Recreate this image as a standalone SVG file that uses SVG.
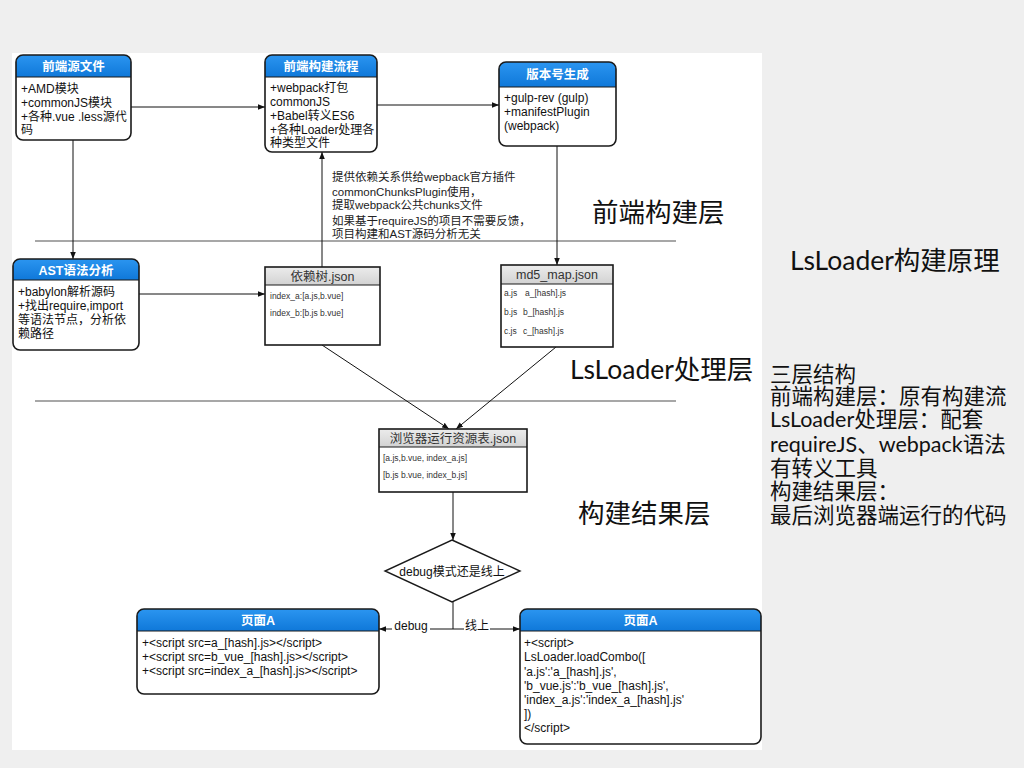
<svg xmlns="http://www.w3.org/2000/svg" width="1024" height="768" viewBox="0 0 1024 768">
<defs>
<linearGradient id="gb" x1="0" y1="0" x2="0" y2="1"><stop offset="0" stop-color="#2b95f0"/><stop offset="1" stop-color="#0f78d9"/></linearGradient>
<linearGradient id="gg" x1="0" y1="0" x2="0" y2="1"><stop offset="0" stop-color="#ececec"/><stop offset="1" stop-color="#d2d2d2"/></linearGradient>
<marker id="ar" viewBox="0 0 10 10" refX="10" refY="5" markerWidth="7" markerHeight="7" orient="auto" markerUnits="userSpaceOnUse"><path d="M0,1 L10,5 L0,9 Z" fill="#111"/></marker>
<style>
.bx{fill:none;stroke:#1a1a1a;stroke-width:1.6}
.bg{fill:#fff}
.hb{fill:url(#gb)}
.hg{fill:url(#gg)}
.hl{stroke:#1a1a1a;stroke-width:1.2}
.ht{font-family:"Liberation Sans","Noto Sans CJK SC",sans-serif;font-size:12.5px;font-weight:bold;fill:#fff;text-anchor:middle}
.gt{font-family:"Liberation Sans","Noto Sans CJK SC",sans-serif;font-size:12.5px;fill:#333;text-anchor:middle}
.t{font-family:"Liberation Sans","Noto Sans CJK SC",sans-serif;font-size:12px;fill:#111}
.s{font-family:"Liberation Sans","Noto Sans CJK SC",sans-serif;font-size:8.5px;fill:#333}
.c{font-family:"Liberation Sans","Noto Sans CJK SC",sans-serif;font-size:11.5px;fill:#222}
.ln{fill:none;stroke:#111;stroke-width:1}
.sep{stroke:#8a8a8a;stroke-width:1.5}
.big{font-family:"Lato","Noto Sans CJK SC",sans-serif;font-size:26.5px;fill:#111}
.r{font-family:"Lato","Noto Sans CJK SC",sans-serif;font-size:21.5px;fill:#111}
</style>
</defs>
<rect x="0" y="0" width="1024" height="768" fill="#efefef"/>
<rect x="12" y="53" width="750" height="697" fill="#fff"/>

<g id="sep">
<line class="sep" x1="35" y1="241" x2="676" y2="241"/>
<line class="sep" x1="35" y1="401" x2="676" y2="401"/>
</g>

<g id="connectors">
<line class="ln" x1="131" y1="107" x2="265" y2="107" marker-end="url(#ar)"/>
<line class="ln" x1="377" y1="105" x2="499" y2="105" marker-end="url(#ar)"/>
<line class="ln" x1="73" y1="140" x2="73" y2="259" marker-end="url(#ar)"/>
<line class="ln" x1="557" y1="146" x2="557" y2="265" marker-end="url(#ar)"/>
<line class="ln" x1="139" y1="294" x2="265" y2="294" marker-end="url(#ar)"/>
<line class="ln" x1="322" y1="267" x2="322" y2="152" marker-end="url(#ar)"/>
<line class="ln" x1="322" y1="345" x2="449" y2="429" marker-end="url(#ar)"/>
<line class="ln" x1="556" y1="347" x2="456" y2="429" marker-end="url(#ar)"/>
<line class="ln" x1="453" y1="492" x2="453" y2="540" marker-end="url(#ar)"/>
<polyline class="ln" points="453,602 453,629"/>
<line class="ln" x1="453" y1="629" x2="379" y2="629" marker-end="url(#ar)"/>
<line class="ln" x1="453" y1="629" x2="520" y2="629" marker-end="url(#ar)"/>
<rect x="392" y="619" width="38" height="14" fill="#fff"/>
<text class="t" x="411" y="630" text-anchor="middle">debug</text>
<rect x="464" y="619" width="26" height="14" fill="#fff"/>
<text class="t" x="477" y="630" text-anchor="middle">线上</text>
</g>

<g id="n-src">
<rect class="bg" x="16" y="55" width="115" height="85" rx="7"/>
<path class="hb" d="M16,77 V62 A7,7 0 0 1 23,55 H124 A7,7 0 0 1 131,62 V77 Z"/>
<line class="hl" x1="16" y1="77" x2="131" y2="77"/>
<rect class="bx" x="16" y="55" width="115" height="85" rx="7"/>
<text class="ht" x="73.5" y="71">前端源文件</text>
<text class="t" x="21" y="93">+AMD模块</text>
<text class="t" x="21" y="107">+commonJS模块</text>
<text class="t" x="21" y="121">+各种.vue .less源代</text>
<text class="t" x="21" y="134">码</text>
</g>

<g id="n-build">
<rect class="bg" x="265" y="55" width="112" height="97" rx="7"/>
<path class="hb" d="M265,77 V62 A7,7 0 0 1 272,55 H370 A7,7 0 0 1 377,62 V77 Z"/>
<line class="hl" x1="265" y1="77" x2="377" y2="77"/>
<rect class="bx" x="265" y="55" width="112" height="97" rx="7"/>
<text class="ht" x="321" y="71">前端构建流程</text>
<text class="t" x="270" y="92">+webpack打包</text>
<text class="t" x="270" y="106">commonJS</text>
<text class="t" x="270" y="120">+Babel转义ES6</text>
<text class="t" x="270" y="134">+各种Loader处理各</text>
<text class="t" x="270" y="147">种类型文件</text>
</g>

<g id="n-ver">
<rect class="bg" x="499" y="62" width="117" height="84" rx="7"/>
<path class="hb" d="M499,87 V69 A7,7 0 0 1 506,62 H609 A7,7 0 0 1 616,69 V87 Z"/>
<line class="hl" x1="499" y1="87" x2="616" y2="87"/>
<rect class="bx" x="499" y="62" width="117" height="84" rx="7"/>
<text class="ht" x="557.5" y="79">版本号生成</text>
<text class="t" x="504" y="102">+gulp-rev (gulp)</text>
<text class="t" x="504" y="116">+manifestPlugin</text>
<text class="t" x="504" y="130">(webpack)</text>
</g>

<g id="note">
<text class="c" x="332" y="181">提供依赖关系供给wepback官方插件</text>
<text class="c" x="332" y="196">commonChunksPlugin使用，</text>
<text class="c" x="332" y="209">提取webpack公共chunks文件</text>
<text class="c" x="332" y="225">如果基于requireJS的项目不需要反馈，</text>
<text class="c" x="332" y="238">项目构建和AST源码分析无关</text>
</g>

<g id="n-ast">
<rect class="bg" x="13" y="259" width="126" height="91" rx="7"/>
<path class="hb" d="M13,280 V266 A7,7 0 0 1 20,259 H132 A7,7 0 0 1 139,266 V280 Z"/>
<line class="hl" x1="13" y1="280" x2="139" y2="280"/>
<rect class="bx" x="13" y="259" width="126" height="91" rx="7"/>
<text class="ht" x="76" y="275">AST语法分析</text>
<text class="t" x="18" y="296">+babylon解析源码</text>
<text class="t" x="18" y="310">+找出require,import</text>
<text class="t" x="18" y="324">等语法节点，分析依</text>
<text class="t" x="18" y="338">赖路径</text>
</g>

<g id="n-dep">
<rect class="bg" x="265" y="267" width="115" height="78"/>
<rect class="hg" x="265" y="267" width="115" height="18"/>
<line class="hl" x1="265" y1="285" x2="380" y2="285"/>
<rect class="bx" x="265" y="267" width="115" height="78" stroke-width="1.2"/>
<text class="gt" x="322.5" y="281">依赖树.json</text>
<text class="s" x="270" y="299">index_a:[a.js,b.vue]</text>
<text class="s" x="270" y="316">index_b:[b.js b.vue]</text>
</g>

<g id="n-md5">
<rect class="bg" x="501" y="265" width="112" height="82"/>
<rect class="hg" x="501" y="265" width="112" height="19"/>
<line class="hl" x1="501" y1="284" x2="613" y2="284"/>
<rect class="bx" x="501" y="265" width="112" height="82" stroke-width="1.2"/>
<text class="gt" x="557" y="279">md5_map.json</text>
<text class="s" x="504" y="296">a.js</text><text class="s" x="525" y="296">a_[hash].js</text>
<text class="s" x="504" y="315">b.js</text><text class="s" x="523" y="315">b_[hash].js</text>
<text class="s" x="504" y="334">c.js</text><text class="s" x="523" y="334">c_[hash].js</text>
</g>

<g id="n-res">
<rect class="bg" x="379" y="429" width="148" height="63"/>
<rect class="hg" x="379" y="429" width="148" height="18"/>
<line class="hl" x1="379" y1="447" x2="527" y2="447"/>
<rect class="bx" x="379" y="429" width="148" height="63" stroke-width="1.2"/>
<text class="gt" x="453" y="443">浏览器运行资源表.json</text>
<text class="s" x="383" y="461">[a.js,b.vue, index_a.js]</text>
<text class="s" x="383" y="478">[b.js b.vue, index_b.js]</text>
</g>

<g id="n-diamond">
<polygon points="452,540 520,571 452,602 385,571" fill="#fff" stroke="#1a1a1a" stroke-width="1.4"/>
<text class="t" x="452" y="576" text-anchor="middle">debug模式还是线上</text>
</g>

<g id="n-pageA-debug">
<rect class="bg" x="137" y="609" width="242" height="85" rx="7"/>
<path class="hb" d="M137,631 V616 A7,7 0 0 1 144,609 H372 A7,7 0 0 1 379,616 V631 Z"/>
<line class="hl" x1="137" y1="631" x2="379" y2="631"/>
<rect class="bx" x="137" y="609" width="242" height="85" rx="7"/>
<text class="ht" x="258" y="625">页面A</text>
<text class="t" x="142" y="647">+&lt;script src=a_[hash].js&gt;&lt;/script&gt;</text>
<text class="t" x="142" y="661">+&lt;script src=b_vue_[hash].js&gt;&lt;/script&gt;</text>
<text class="t" x="142" y="675">+&lt;script src=index_a_[hash].js&gt;&lt;/script&gt;</text>
</g>

<g id="n-pageA-online">
<rect class="bg" x="520" y="609" width="241" height="135" rx="7"/>
<path class="hb" d="M520,631 V616 A7,7 0 0 1 527,609 H754 A7,7 0 0 1 761,616 V631 Z"/>
<line class="hl" x1="520" y1="631" x2="761" y2="631"/>
<rect class="bx" x="520" y="609" width="241" height="135" rx="7"/>
<text class="ht" x="640.5" y="625">页面A</text>
<text class="t" x="524" y="647">+&lt;script&gt;</text>
<text class="t" x="524" y="661">LsLoader.loadCombo([</text>
<text class="t" x="524" y="676">'a.js':'a_[hash].js',</text>
<text class="t" x="524" y="690">'b_vue.js':'b_vue_[hash].js',</text>
<text class="t" x="524" y="704">'index_a.js':'index_a_[hash].js'</text>
<text class="t" x="524" y="718">])</text>
<text class="t" x="524" y="732">&lt;/script&gt;</text>
</g>

<g id="labels">
<text class="big" x="592" y="222">前端构建层</text>
<text class="big" x="570" y="379">LsLoader处理层</text>
<text class="big" x="578" y="523">构建结果层</text>
<text class="big" x="790" y="270" font-size="25">LsLoader构建原理</text>
<text class="r" x="770" y="382">三层结构</text>
<text class="r" x="770" y="404">前端构建层：原有构建流</text>
<text class="r" x="770" y="427">LsLoader处理层：配套</text>
<text class="r" x="770" y="452">requireJS、webpack语法</text>
<text class="r" x="770" y="476">有转义工具</text>
<text class="r" x="770" y="499">构建结果层：</text>
<text class="r" x="770" y="523">最后浏览器端运行的代码</text>
</g>
</svg>
